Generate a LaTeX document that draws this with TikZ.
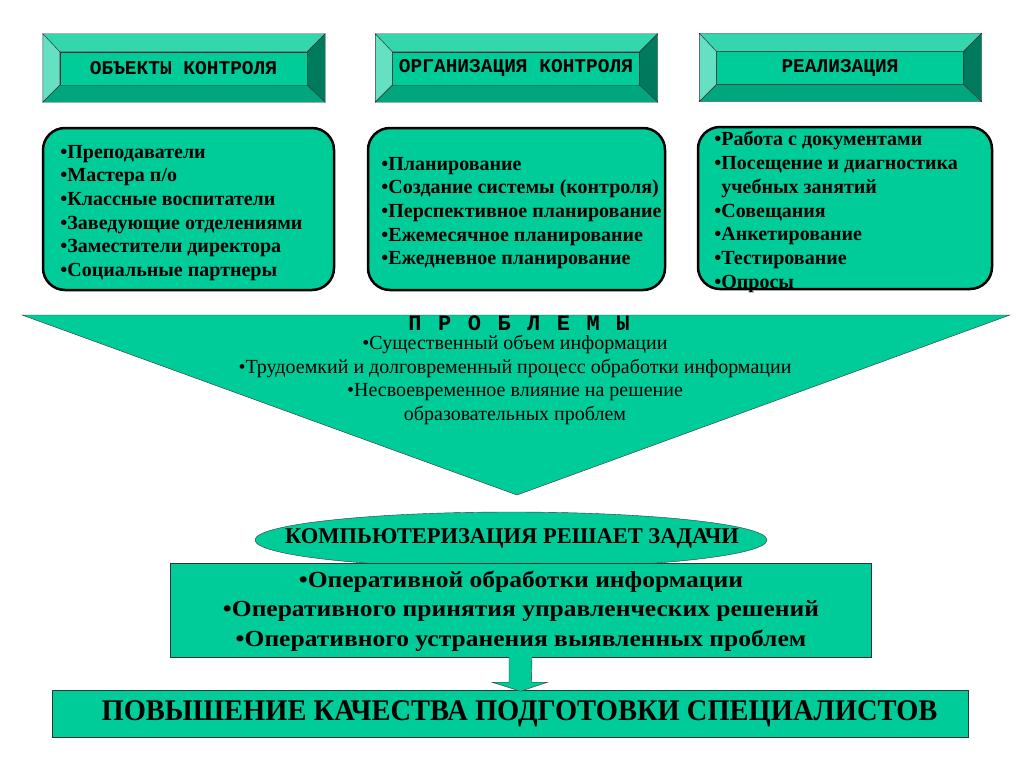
\documentclass[tikz,border=0pt]{standalone}
\usepackage{fontspec}
\setmainfont{Liberation Serif}
\newfontfamily\courier{Liberation Mono}
\usepackage{xcolor}
\usetikzlibrary{calc}
\usetikzlibrary{shapes.geometric}
\definecolor{sea}{HTML}{00CC99}
\definecolor{seatop}{HTML}{33D6AD}
\definecolor{sealeft}{HTML}{66E0C2}
\definecolor{searight}{HTML}{007A5C}
\definecolor{seabottom}{HTML}{00A67D}

\begin{document}
\begin{tikzpicture}[x=1pt,y=-1pt,thick]
\tikzstyle{head}=[draw=black!80, thin, fill=sea, minimum width=247, minimum height=33, inner sep=0, font=\courier\bfseries\fontsize{19.5}{22}\selectfont]
\tikzstyle{listbox}=[draw=black, line width=2.5pt, fill=sea, rounded corners=22, minimum height=162]
\tikzstyle{items}=[align=left, inner sep=0, anchor=west, font=\bfseries\fontsize{20}{23.7}\selectfont]
\tikzstyle{plain}=[draw=black!80, thin, fill=sea, inner sep=0]

	\fill[white] (0,0) rectangle (1024,768);
	\useasboundingbox (0,0) rectangle (1024,768);

	%headers
	\node[head] (obj) at (183.5,68.5) {ОБЪЕКТЫ КОНТРОЛЯ};
	\node[head] (org) at (516,68.5) {ОРГАНИЗАЦИЯ КОНТРОЛЯ};
	\node[head] (real) at (840,68) {РЕАЛИЗАЦИЯ};
	\foreach \h in {obj,org,real}{
		\coordinate (\h-nw) at ($(\h.north west)+(-17,-18)$);
		\coordinate (\h-ne) at ($(\h.north east)+(18,-18)$);
		\coordinate (\h-se) at ($(\h.south east)+(18,17)$);
		\coordinate (\h-sw) at ($(\h.south west)+(-17,17)$);
		\filldraw[fill=seatop, draw=black!80, thin] (\h-nw) -- (\h-ne) -- (\h.north east) -- (\h.north west) -- cycle;
		\filldraw[fill=sealeft, draw=black!80, thin] (\h-nw) -- (\h.north west) -- (\h.south west) -- (\h-sw) -- cycle;
		\filldraw[fill=searight, draw=black!80, thin] (\h-ne) -- (\h-se) -- (\h.south east) -- (\h.north east) -- cycle;
		\filldraw[fill=seabottom, draw=black!80, thin] (\h-sw) -- (\h.south west) -- (\h.south east) -- (\h-se) -- cycle;
	}

	%lists
	\node[listbox, minimum width=291] (objbox) at (188.5,209) {};
	\node[listbox, minimum width=297] (orgbox) at (516.5,209) {};
	\node[listbox, minimum width=294] (realbox) at (845,208) {};
	\node[items] (objlist) at (60,213) {•Преподаватели\\•Мастера п/о\\•Классные воспитатели\\•Заведующие отделениями\\•Заместители директора\\•Социальные партнеры};
	\node[items] (orglist) at (381,213) {•Планирование\\•Создание системы (контроля)\\•Перспективное планирование\\•Ежемесячное планирование\\•Ежедневное планирование};
	\node[items] (reallist) at (714,212) {•Работа с документами\\•Посещение и диагностика\\\phantom{•}учебных занятий\\•Совещания\\•Анкетирование\\•Тестирование\\•Опросы};

	%problems
	\coordinate (left) at (22,315);
	\coordinate (right) at (1010,315);
	\coordinate (tip) at (517,495);
	\filldraw[fill=sea, draw=black!80, thin] (left) -- (right) -- (tip) -- cycle;
	\node[inner sep=0, font=\courier\bfseries\fontsize{22}{24}\selectfont\addfontfeature{LetterSpace=15}] (prob) at (519,323.5) {П Р О Б Л Е М Ы};
	\node[inner sep=0, align=center, font=\fontsize{20}{23.5}\selectfont] (problist) at (515,380) {•Существенный объем информации\\•Трудоемкий и долговременный процесс обработки информации\\•Несвоевременное влияние на решение\\образовательных проблем};

	%computerization
	\node[plain, ellipse, minimum width=512, minimum height=56] (comp) at (511,540) {};
	\node[plain, minimum width=701, minimum height=94, font=\bfseries\fontsize{23}{29.5}\selectfont] (tasks) at (520.5,610) {};
	\node[inner sep=0, font=\bfseries\fontsize{23}{29.5}\selectfont] (tasklist) at (521,611) {\scalebox{1.11}[1]{\begin{tabular}{@{}c@{}}•Оперативной обработки информации\\•Оперативного принятия управленческих решений\\•Оперативного устранения выявленных проблем\end{tabular}}};
	\node[inner sep=0, font=\bfseries\fontsize{22.5}{24}\selectfont] (comptext) at (512,538) {КОМПЬЮТЕРИЗАЦИЯ РЕШАЕТ ЗАДАЧИ};
	\node[plain, minimum width=916, minimum height=47, font=\bfseries\fontsize{30}{32}\selectfont] (goal) at (510,713.5) {\hspace{19pt}\scalebox{0.95}[1]{ПОВЫШЕНИЕ КАЧЕСТВА ПОДГОТОВКИ СПЕЦИАЛИСТОВ}};

	%arrow
	\filldraw[fill=sea, draw=black!80, thin] ($(tasks.south)+(-11.5,0)$) -- ++(0,25) -- ++(-17,0) -- ($(tasks.south)+(0,34)$) -- ($(tasks.south)+(27,25)$) -- ++(-16,0) -- ($(tasks.south)+(11.5,0)$);

\end{tikzpicture}
\end{document}
